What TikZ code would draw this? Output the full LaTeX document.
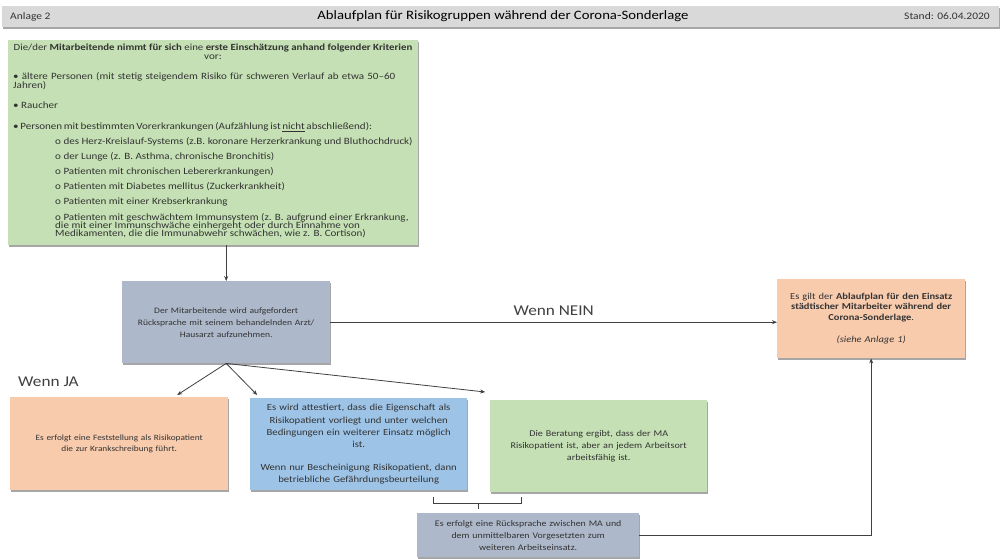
\documentclass[tikz,border=0pt]{standalone}
\usepackage{fontspec}
\setmainfont{Carlito}[FakeStretch=1.15]
\usetikzlibrary{shadows,arrows.meta,calc}
\definecolor{hdrgray}{HTML}{D9D9D9}
\definecolor{boxgreen}{HTML}{C5E0B4}
\definecolor{boxslate}{HTML}{ADB9CA}
\definecolor{boxorange}{HTML}{F8CBAD}
\definecolor{boxblue}{HTML}{9DC3E6}
\definecolor{txt}{HTML}{333333}
\definecolor{linec}{HTML}{404040}
\begin{document}
\begin{tikzpicture}[x=1pt,y=-1pt,
  shade box/.style={drop shadow={shadow xshift=1.2pt,shadow yshift=-1.6pt,opacity=0.35,fill=black}},
  fbox/.style={shade box,anchor=north west,inner sep=3pt,align=center,text=txt},
  gline/.style={inner sep=0pt,font=\fontsize{9.6}{9}\selectfont,text=txt,text height=6.5pt,text depth=2pt},
  lbl/.style={inner sep=0pt,font=\fontsize{15}{18}\selectfont,text=linec},
  arr/.style={draw=linec,line width=0.8pt,-{Stealth[length=5pt,width=4pt]}},
  brk/.style={draw=linec,line width=0.7pt}]
\useasboundingbox (0,0) rectangle (1001,558);
\fill[white] (0,0) rectangle (1001,558);

% header
\node[shade box,fill=hdrgray,anchor=north west,minimum width=997pt,minimum height=21pt,inner sep=0pt] (hdr) at (2,6) {};
\node[anchor=west,inner sep=0pt,font=\fontsize{10}{11}\selectfont,text=txt] (anl) at (10,16.5) {Anlage 2};
\node[inner sep=0pt,font=\fontsize{12.8}{14}\selectfont,text=black] (title) at (503,16.5) {Ablaufplan für Risikogruppen während der Corona-Sonderlage};
\node[anchor=east,inner sep=0pt,font=\fontsize{10}{11}\selectfont,text=txt] (stand) at (990,16.5) {Stand: 06.04.2020};

% criteria box
\node[shade box,fill=boxgreen,anchor=north west,minimum width=410pt,minimum height=205pt,inner sep=0pt] (crit) at (8,40) {};
\node[gline,font=\fontsize{9.4}{9}\selectfont] (g1) at (213,48) {Die/der \textbf{Mitarbeitende nimmt für sich} eine \textbf{erste Einschätzung anhand folgender Kriterien}};
\node[gline] (g2) at (213,57) {vor:};
\node[gline,anchor=west] (g3) at (13,77) {\makebox[382pt][s]{\textbullet\ ältere Personen (mit stetig steigendem Risiko für schweren Verlauf ab etwa 50–60}};
\node[gline,anchor=west] (g4) at (13,86) {Jahren)};
\node[gline,anchor=west] (g5) at (13,106) {\textbullet\ Raucher};
\node[gline,anchor=west] (g6) at (13,127) {\makebox[334pt][s]{\textbullet\ Personen mit bestimmten Vorerkrankungen (Aufzählung ist \underline{nicht} abschließend):}};
\node[gline,anchor=west] (g7) at (55,142) {o des Herz-Kreislauf-Systems (z.B. koronare Herzerkrankung und Bluthochdruck)};
\node[gline,anchor=west] (g8) at (55,157) {o der Lunge (z. B. Asthma, chronische Bronchitis)};
\node[gline,anchor=west] (g9) at (55,172) {o Patienten mit chronischen Lebererkrankungen)};
\node[gline,anchor=west] (g10) at (55,187) {o Patienten mit Diabetes mellitus (Zuckerkrankheit)};
\node[gline,anchor=west] (g11) at (55,202) {o Patienten mit einer Krebserkrankung};
\node[gline,anchor=west] (g12) at (55,218) {o Patienten mit geschwächtem Immunsystem (z. B. aufgrund einer Erkrankung,};
\node[gline,anchor=west] (g13) at (55,226) {die mit einer Immunschwäche einhergeht oder durch Einnahme von};
\node[gline,anchor=west] (g14) at (55,234) {Medikamenten, die die Immunabwehr schwächen, wie z. B. Cortison)};

% process boxes
\node[fbox,fill=boxslate,minimum width=208pt,minimum height=82pt,text width=202pt,font=\fontsize{8.3}{12}\selectfont] (ask) at (122,281)
  {Der Mitarbeitende wird aufgefordert\\Rücksprache mit seinem behandelnden Arzt/\\Hausarzt aufzunehmen.};
\node[fbox,fill=boxorange,minimum width=188pt,minimum height=79pt,text width=182pt,font=\fontsize{9.1}{10.5}\selectfont] (plan) at (777,279)
  {Es gilt der {\bfseries Ablaufplan für den Einsatz\\städtischer Mitarbeiter während der\\Corona-Sonderlage}.\\[12pt]\textit{(siehe Anlage 1)}};
\node[fbox,fill=boxorange,minimum width=218pt,minimum height=93pt,text width=212pt,font=\fontsize{8.1}{11}\selectfont] (krank) at (10,397)
  {Es erfolgt eine Feststellung als Risikopatient\\die zur Krankschreibung führt.};
\node[fbox,fill=boxblue,minimum width=217pt,minimum height=92pt,text width=211pt,font=\fontsize{9.3}{12.3}\selectfont] (attest) at (250,398)
  {Es wird attestiert, dass die Eigenschaft als\\Risikopatient vorliegt und unter welchen\\Bedingungen ein weiterer Einsatz möglich\\ist.\\[10pt]Wenn nur Bescheinigung Risikopatient, dann\\betriebliche Gefährdungsbeurteilung};
\node[fbox,fill=boxgreen,minimum width=217pt,minimum height=92pt,text width=211pt,font=\fontsize{8.8}{12}\selectfont] (fit) at (490,400)
  {Die Beratung ergibt, dass der MA\\Risikopatient ist, aber an jedem Arbeitsort\\arbeitsfähig ist.};
\node[fbox,fill=boxslate,minimum width=222pt,minimum height=44pt,text width=216pt,inner sep=2pt,font=\fontsize{8.6}{12}\selectfont] (rueck) at (417,513)
  {Es erfolgt eine Rücksprache zwischen MA und\\dem unmittelbaren Vorgesetzten zum\\weiteren Arbeitseinsatz.};

% labels
\node[lbl,anchor=west] (ja) at (18,382) {Wenn JA};

% connectors
\draw[arr] (crit.south -| ask.north) -- (ask.north);
\draw[arr] (ask.east) -- node[lbl,above=6pt,pos=0.5] (nein) {Wenn NEIN} (ask.east -| plan.west);
\draw[arr] (ask.south) -- ([xshift=58pt,yshift=2pt]krank.north);
\draw[arr] (ask.south) -- ([xshift=-101.5pt,yshift=3pt]attest.north);
\draw[arr] (ask.south) -- ([xshift=-113.5pt,yshift=8pt]fit.north);
\draw[arr] (rueck.east) -| (plan.south);

% bracket
\draw[brk] (433,497) -- (433,503) -- (521,503) -- (521,497);
\draw[brk] (478,503) -- (478,509);
\end{tikzpicture}
\end{document}
